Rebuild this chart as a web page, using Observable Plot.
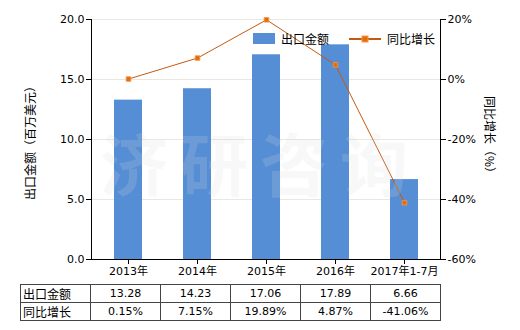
<!DOCTYPE html>
<html><head><meta charset="utf-8">
<script src="https://cdn.jsdelivr.net/npm/d3@7"></script>
<script src="https://cdn.jsdelivr.net/npm/@observablehq/plot@0.6"></script>
<style>
body{margin:0;background:#fff;font-family:"DejaVu Sans","Noto Sans CJK SC",sans-serif;}
#wrap{position:relative;width:520px;height:330px;overflow:hidden;}
#chart{position:absolute;left:0;top:0;}
#legend{position:absolute;left:253px;top:30px;font-size:11px;color:#000;display:flex;align-items:center;}
#wm{position:absolute;left:100px;top:122px;font-size:68px;line-height:80px;color:rgba(215,215,215,0.18);letter-spacing:12px;font-family:"Noto Sans CJK SC";font-weight:bold;white-space:nowrap;}
.yt{position:absolute;font-size:12px;white-space:nowrap;font-family:"Noto Sans CJK SC",sans-serif;writing-mode:vertical-rl;text-orientation:sideways;line-height:14px;}
table{position:absolute;left:20px;top:284px;border-collapse:collapse;font-size:11px;}
td{border:1px solid #444;height:17px;padding:0;text-align:center;width:69px;}
td.h{text-align:left;padding-left:2px;width:67px;font-size:12px;font-family:"Noto Sans CJK SC",sans-serif;}
</style></head>
<body><div id="wrap"><div id="chart"></div>
<div id="wm">济研咨询</div>
<div class="yt" id="ylab" style="left:23px;top:80px;transform:rotate(180deg)">出口金额（百万美元）</div>
<div class="yt" id="y2lab" style="left:483px;top:96px;">同比增长（%）</div>
<div id="legend"><span style="display:inline-block;width:22px;height:11px;background:#558ED5;margin-right:6px"></span><span style="font-size:12px;font-family:'Noto Sans CJK SC'">出口金额</span><svg width="34" height="10" style="margin-left:20px;margin-right:4px"><line x1="0" y1="5" x2="32" y2="5" stroke="#C45A11" stroke-width="2"/><rect x="13" y="2" width="6" height="6" fill="#E46C0A" stroke="#F79646"/></svg><span style="font-size:12px;font-family:'Noto Sans CJK SC'">同比增长</span></div>
<table id="tbl"></table>
</div>
<script>
const categories = ["2013年","2014年","2015年","2016年","2017年1-7月"];
const exportValues = [13.28,14.23,17.06,17.89,6.66];
const growthPct = [0.15,7.15,19.89,4.87,-41.06];
const leftTicks = [0,5,10,15,20];
const rightTicks = [-60,-40,-20,0,20];

const toLeft = p => (p + 60) / 4;
const bars = categories.map((c,i)=>({c, v: exportValues[i]}));
const line = categories.map((c,i)=>({c, p: growthPct[i], y: toLeft(growthPct[i])}));

const chart = Plot.plot({
  width: 520, height: 280,
  marginLeft: 91, marginRight: 80, marginTop: 19, marginBottom: 21,
  style: {fontSize: "11px", fontFamily: "DejaVu Sans, Noto Sans CJK SC, sans-serif", color: "#000", background: "transparent"},
  x: {domain: categories, paddingInner: 0.6, paddingOuter: 0.3},
  y: {domain: [0,20]},
  marks: [
    Plot.ruleY(leftTicks.slice(1), {stroke: "#e8e8e0"}),
    Plot.barY(bars, {x: "c", y: "v", fill: "#558ED5"}),
    Plot.line(line, {x: "c", y: "y", stroke: "#C55A11", strokeWidth: 1}),
    Plot.dot(line, {x: "c", y: "y", symbol: "square", r: 2.6, fill: "#E46C0A", stroke: "#F79646", strokeWidth: 0.8}),
    Plot.axisX({tickSize: 5, tickPadding: 3, label: null, stroke: "#000"}),
    Plot.ruleY([0], {stroke: "#000"}),
    Plot.axisY({anchor: "left", ticks: leftTicks, tickFormat: d => d.toFixed(1), tickSize: 5, tickPadding: 2, label: null}),
    Plot.axisY({anchor: "right", ticks: rightTicks.map(toLeft), tickFormat: (d,i) => rightTicks[i] + "%", tickSize: 5, tickPadding: 2, label: null}),
    Plot.frame({anchor: "left", stroke: "#000"}),
    Plot.frame({anchor: "right", stroke: "#000"})
  ]
});
document.getElementById("chart").appendChild(chart);

const tbl = document.getElementById("tbl");
const rows = [["出口金额", exportValues.map(v=>v.toFixed(2))],["同比增长", growthPct.map(v=>v.toFixed(2)+"%")]];
for (const [h, vals] of rows) {
  const tr = document.createElement("tr");
  const th = document.createElement("td"); th.className="h"; th.textContent=h; tr.appendChild(th);
  for (const v of vals){ const td=document.createElement("td"); td.textContent=v; tr.appendChild(td);}
  tbl.appendChild(tr);
}
</script></body></html>
